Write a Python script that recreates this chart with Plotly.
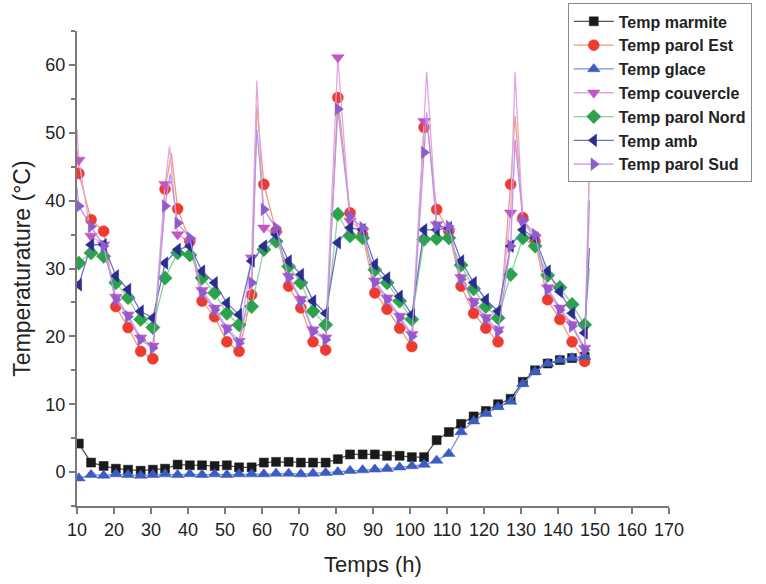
import plotly.graph_objects as go

# Sampling times (h) of the logged points that carry a symbol
hours = [10.5, 13.8, 17.2, 20.5, 23.8, 27.2, 30.5, 33.8, 37.2, 40.5,
         43.8, 47.2, 50.5, 53.8, 57.2, 60.5, 63.8, 67.2, 70.5, 73.8,
         77.2, 80.5, 83.8, 87.2, 90.5, 93.8, 97.2, 100.5, 103.8, 107.2,
         110.5, 113.8, 117.2, 120.5, 123.8, 127.2, 130.5, 133.8, 137.2, 140.5,
         143.8, 147.2]

temp_marmite = [4.2, 1.4, 0.9, 0.5, 0.35, 0.2, 0.35, 0.5, 1.1, 1.0,
                1.0, 0.9, 1.0, 0.7, 0.7, 1.4, 1.5, 1.5, 1.4, 1.4,
                1.4, 1.9, 2.6, 2.6, 2.6, 2.4, 2.4, 2.2, 2.2, 4.7,
                5.9, 7.1, 8.2, 9.0, 10.0, 10.8, 13.3, 15.0, 16.0, 16.5,
                16.8, 17.0]
temp_paroi_est = [44.0, 37.2, 35.5, 24.4, 21.3, 17.8, 16.7, 41.7, 38.8, 34.0,
                  25.2, 22.9, 19.2, 17.8, 26.1, 42.4, 35.5, 27.4, 24.2, 19.2,
                  18.0, 55.2, 38.2, 35.0, 26.4, 24.0, 21.2, 18.5, 50.8, 38.7,
                  35.5, 27.4, 23.4, 21.2, 19.2, 42.4, 37.5, 34.0, 25.4, 22.5,
                  19.2, 16.3]
temp_glace = [-0.9, -0.4, -0.5, -0.3, -0.4, -0.5, -0.4, -0.3, -0.4, -0.3,
              -0.4, -0.3, -0.4, -0.3, -0.3, -0.3, -0.2, -0.2, -0.3, -0.2,
              -0.1, 0.0, 0.2, 0.3, 0.4, 0.5, 0.7, 0.9, 1.1, 1.7,
              2.7, 5.9, 7.5, 8.6, 9.6, 10.4, 13.0, 14.8, 16.0, 16.5,
              16.8, 17.0]
temp_couvercle = [46.0, 34.8, 33.5, 25.8, 23.2, 19.8, 18.6, 42.4, 35.0, 34.0,
                  26.8, 24.2, 21.3, 19.3, 31.6, 36.0, 35.0, 28.9, 25.5, 21.0,
                  19.8, 61.1, 37.0, 35.5, 28.2, 25.7, 23.0, 20.3, 51.7, 36.5,
                  35.5, 28.7, 25.2, 22.8, 21.0, 38.2, 36.8, 34.5, 27.2, 24.2,
                  21.8, 18.3]
temp_paroi_nord = [30.8, 32.3, 31.8, 27.9, 25.7, 22.5, 21.3, 28.6, 32.3, 32.0,
                   28.6, 26.4, 23.4, 21.7, 24.4, 32.8, 34.0, 30.3, 27.9, 23.7,
                   21.7, 38.0, 34.8, 34.5, 29.8, 27.9, 25.2, 22.5, 34.3, 34.4,
                   34.5, 30.5, 27.0, 24.4, 22.7, 29.1, 34.5, 33.3, 29.0, 27.2,
                   24.7, 21.7]
temp_amb = [27.6, 33.5, 33.5, 28.9, 26.9, 23.7, 22.7, 30.8, 32.8, 33.3,
            29.6, 27.9, 24.9, 23.2, 31.1, 33.3, 35.0, 31.1, 29.1, 25.2,
            23.4, 33.8, 36.0, 35.7, 30.6, 28.6, 25.9, 23.2, 35.7, 35.7,
            36.0, 31.1, 27.9, 25.4, 23.7, 33.3, 35.7, 34.5, 29.6, 26.6,
            23.4, 20.5]
temp_paroi_sud = [39.2, 36.2, 33.3, 25.4, 22.9, 19.5, 18.3, 39.2, 36.7, 34.5,
                  26.4, 23.9, 21.0, 19.0, 27.9, 38.7, 36.0, 28.6, 25.2, 20.7,
                  19.5, 53.5, 37.7, 36.0, 27.9, 25.4, 22.7, 20.0, 47.1, 36.2,
                  36.2, 28.4, 24.9, 22.5, 20.7, 33.3, 37.2, 35.0, 26.9, 23.9,
                  21.5, 18.0]

# Short peaks logged between two symbol points (line only)
peak_hours_est = [10.0, 35.5, 58.6, 104.5, 128.4, 148.5]
peak_vals_est = [47.5, 47.0, 54.0, 52.0, 52.5, 46.0]
peak_hours_couv = [10.0, 35.0, 58.6, 104.5, 128.4, 148.5]
peak_vals_couv = [50.5, 48.0, 57.7, 59.0, 58.9, 45.0]
peak_hours_sud = [10.0, 35.2, 58.6, 104.5, 128.4, 148.5]
peak_vals_sud = [42.0, 44.0, 50.5, 53.0, 49.0, 40.0]
peak_hours_amb = [148.5]
peak_vals_amb = [33.0]
peak_hours_nord = [148.5]
peak_vals_nord = [30.0]
peak_hours_marm = [148.5]
peak_vals_marm = [17.2]
peak_hours_glace = [148.5]
peak_vals_glace = [17.2]

series = [
    ("Temp marmite", temp_marmite, peak_hours_marm, peak_vals_marm,
     "square", 9, "#1a1a1a", "#555555"),
    ("Temp parol Est", temp_paroi_est, peak_hours_est, peak_vals_est,
     "circle", 11, "#ee3b30", "#f59a78"),
    ("Temp glace", temp_glace, peak_hours_glace, peak_vals_glace,
     "triangle-up", 11, "#3b5cc0", "#7d8fd8"),
    ("Temp couvercle", temp_couvercle, peak_hours_couv, peak_vals_couv,
     "triangle-down", 11, "#c455c4", "#e3a6e3"),
    ("Temp parol Nord", temp_paroi_nord, peak_hours_nord, peak_vals_nord,
     "diamond", 11, "#2aa34a", "#8fd39a"),
    ("Temp amb", temp_amb, peak_hours_amb, peak_vals_amb,
     "triangle-left", 11, "#2b2d8e", "#6f72c4"),
    ("Temp parol Sud", temp_paroi_sud, peak_hours_sud, peak_vals_sud,
     "triangle-right", 11, "#8e5ccc", "#b996e6"),
]

fig = go.Figure()
legend_traces = []
for name, vals, ph, pv, sym, size, mcol, lcol in series:
    pts = sorted(list(zip(hours, vals)) + list(zip(ph, pv)))
    fig.add_trace(go.Scatter(
        x=[p[0] for p in pts], y=[p[1] for p in pts], mode="lines",
        line=dict(color=lcol, width=1.3), showlegend=False, hoverinfo="skip"))
    fig.add_trace(go.Scatter(
        x=hours, y=vals, mode="markers", name=name, showlegend=False,
        marker=dict(symbol=sym, size=size, color=mcol,
                    line=dict(color=mcol, width=0.5))))
    legend_traces.append(go.Scatter(
        x=[None], y=[None], mode="lines+markers", name=name,
        line=dict(color=lcol, width=1.3),
        marker=dict(symbol=sym, size=size, color=mcol,
                    line=dict(color=mcol, width=0.5))))
for tr in legend_traces:
    fig.add_trace(tr)

FONT = "Liberation Sans, Arial, sans-serif"
tick_font = dict(family=FONT, size=18, color="#222222")

fig.update_layout(
    width=766, height=584,
    margin=dict(l=77, r=97, t=31, b=78, autoexpand=False),
    paper_bgcolor="white", plot_bgcolor="white",
    font=dict(family=FONT, size=18, color="#222222"),
    showlegend=True,
    legend=dict(
        x=0.829, y=1.058, xanchor="left", yanchor="top",
        bgcolor="white", bordercolor="#8a8a8a", borderwidth=1,
        font=dict(family=FONT, size=16, color="#222222", weight="bold"),
        tracegroupgap=0, itemwidth=40, entrywidth=170,
    ),
    xaxis=dict(
        range=[10, 170], dtick=10, tick0=10,
        showline=True, linecolor="#7a7a7a", linewidth=2,
        ticks="outside", ticklen=6, tickwidth=1.5, tickcolor="#7a7a7a",
        showgrid=False, zeroline=False,
        title=dict(text="Temps (h)", font=dict(size=22), standoff=18),
        tickfont=tick_font,
    ),
    yaxis=dict(
        range=[-5, 65], dtick=10, tick0=0,
        showline=True, linecolor="#7a7a7a", linewidth=2,
        ticks="outside", ticklen=6, tickwidth=1.5, tickcolor="#7a7a7a",
        minor=dict(dtick=5, tick0=0, ticks="outside", ticklen=4, tickcolor="#7a7a7a"),
        showgrid=False, zeroline=False,
        title=dict(text="Temperaturature (°C)", font=dict(size=23), standoff=8),
        tickfont=tick_font,
    ),
)

fig.write_html("out.html")
